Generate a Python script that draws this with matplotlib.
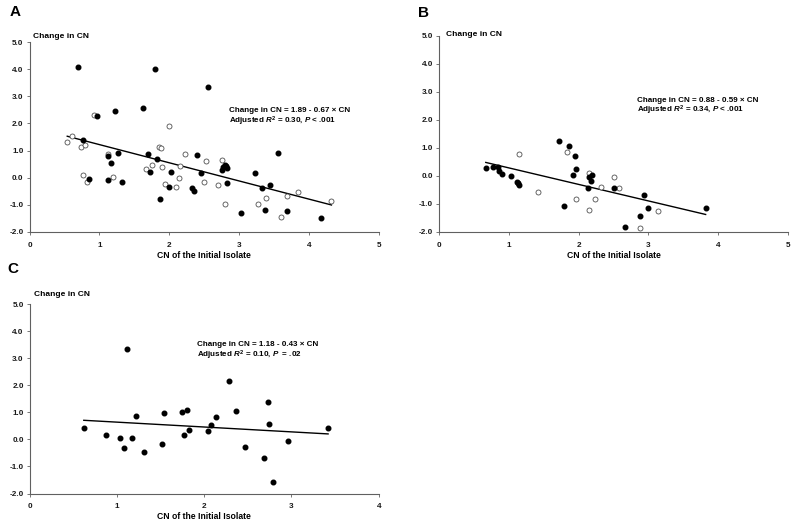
import matplotlib
matplotlib.use('Agg')
import matplotlib.pyplot as plt
import numpy as np

plt.rcParams['font.family'] = ['Liberation Sans', 'DejaVu Sans']
plt.rcParams['font.weight'] = 'bold'
plt.rcParams['mathtext.fontset'] = 'custom'
plt.rcParams['mathtext.rm'] = 'Liberation Sans:bold'
plt.rcParams['mathtext.it'] = 'Liberation Sans:italic:bold'
plt.rcParams['mathtext.bf'] = 'Liberation Sans:bold'

# panel A
a_filled_x = [0.70, 1.80, 0.96, 1.23, 1.63, 2.55, 0.77, 1.13, 1.26, 1.16, 0.85, 1.13,
              1.33, 1.70, 1.83, 1.72, 2.39, 2.03, 2.00, 1.86, 2.33, 2.36, 2.45, 2.76,
              2.77, 2.79, 2.81, 2.82, 2.82, 3.22, 3.56, 3.32, 3.44, 3.02, 3.37, 3.69, 4.17]
a_filled_y = [4.09, 4.02, 2.29, 2.46, 2.56, 3.35, 1.39, 0.81, 0.90, 0.53, -0.03, -0.07,
              -0.17, 0.89, 0.68, 0.20, 0.85, 0.20, -0.33, -0.77, -0.38, -0.49, 0.18, 0.28,
              0.41, 0.48, 0.45, 0.37, -0.21, 0.16, 0.90, -0.37, -0.25, -1.30, -1.19, -1.22, -1.50]
a_open_x = [0.92, 1.99, 0.61, 0.54, 0.74, 0.79, 1.85, 1.88, 1.13, 0.76, 0.82, 1.20,
            1.75, 1.67, 1.89, 2.22, 2.15, 2.14, 1.94, 2.10, 2.52, 2.49, 2.75, 2.69,
            2.79, 3.27, 3.38, 3.60, 3.68, 3.84, 4.32]
a_open_y = [2.32, 1.91, 1.52, 1.30, 1.12, 1.21, 1.15, 1.10, 0.87, 0.10, -0.17, 0.01,
            0.47, 0.32, 0.38, 0.86, 0.45, -0.01, -0.23, -0.33, 0.63, -0.15, 0.66, -0.28,
            -0.98, -0.97, -0.75, -1.46, -0.68, -0.54, -0.84]
a_fit = (1.89, -0.67)
a_eq = ['Change in CN = 1.89 - 0.67 \u00d7 CN', 'Adjusted $R^2$ = 0.30, $P$ < .001']

# panel B
b_filled_x = [0.67, 0.78, 0.84, 0.86, 0.90, 1.03, 1.12, 1.13, 1.15, 1.72, 1.86, 1.95,
              1.96, 1.92, 1.79, 2.15, 2.19, 2.18, 2.14, 2.50, 2.67, 2.93, 2.99, 2.88, 3.82]
b_filled_y = [0.30, 0.33, 0.32, 0.18, 0.08, 0.00, -0.21, -0.26, -0.32, 1.25, 1.07, 0.70,
              0.25, 0.04, -1.08, -0.02, 0.04, -0.19, -0.44, -0.44, -1.81, -0.67, -1.15, -1.43, -1.15]
b_open_x = [1.15, 1.42, 1.83, 1.96, 2.15, 2.23, 2.15, 2.32, 2.50, 2.58, 2.88, 3.14]
b_open_y = [0.79, -0.57, 0.85, -0.82, 0.10, -0.82, -1.21, -0.38, -0.05, -0.44, -1.86, -1.25]
b_fit = (0.88, -0.59)
b_eq = ['Change in CN = 0.88 - 0.59 \u00d7 CN', 'Adjusted $R^2$ = 0.34, $P$ < .001']

# panel C
c_filled_x = [1.12, 0.62, 0.87, 1.04, 1.08, 1.17, 1.22, 1.31, 1.52, 1.54, 1.75, 1.80, 1.77,
              1.83, 2.04, 2.08, 2.13, 2.28, 2.37, 2.47, 2.73, 2.74, 2.68, 2.79, 2.96, 3.42]
c_filled_y = [3.33, 0.41, 0.16, 0.04, -0.33, 0.07, 0.87, -0.45, -0.18, 0.97, 1.01, 1.09, 0.16,
              0.36, 0.32, 0.54, 0.84, 2.15, 1.04, -0.28, 1.40, 0.58, -0.70, -1.59, -0.06, 0.41]
c_open_x = []
c_open_y = []
c_fit = (0.82, -0.18)  # line as drawn in the figure
c_eq = ['Change in CN = 1.18 - 0.43 \u00d7 CN', 'Adjusted $R^2$ = 0.10, $P$  = .02']

y_ticks = [5, 4, 3, 2, 1, 0, -1, -2]

W, H = 800, 525
fig = plt.figure(figsize=(8, 5.25), dpi=100)


def px_box(x0, y0, x1, y1):
    return [x0 / W, 1 - y1 / H, (x1 - x0) / W, (y1 - y0) / H]


def draw_panel(ax, fx, fy, ox, oy, fit, eq, xmax, eq_xy, ylab_xy, letter, letter_xy):
    allx = list(fx) + list(ox)
    if ox:
        ax.plot(ox, oy, 'o', ms=3.6, mfc='white', mec='#505050', mew=0.6,
                clip_on=False, zorder=3)
    ax.plot(fx, fy, 'o', ms=3.3, color='black', clip_on=False, zorder=4)
    xs = np.array([min(allx), max(allx)])
    ax.plot(xs, fit[0] + fit[1] * xs, color='black', lw=1.0, zorder=2)

    ax.set_xlim(0, xmax)
    ax.set_ylim(-2, 5)
    ax.set_xticks(range(0, xmax + 1))
    ax.set_xticklabels([str(v) for v in range(0, xmax + 1)])
    ax.set_yticks(y_ticks)
    ax.set_yticklabels(['%.1f' % v for v in y_ticks])
    for s in ['top', 'right']:
        ax.spines[s].set_visible(False)
    for s in ['left', 'bottom']:
        ax.spines[s].set_color('#606060')
        ax.spines[s].set_linewidth(0.8)
    ax.tick_params(length=2.5, width=0.6, color='#606060', labelsize=5.9,
                   labelcolor='#1a1a1a', pad=1.8)
    ax.tick_params(axis='x', pad=4.5)
    ax.set_xlabel('CN of the Initial Isolate', fontsize=6.2, fontweight='bold',
                  labelpad=1.5)

    fig.text(eq_xy[0] / W, 1 - eq_xy[1] / H, eq[0], fontsize=5.8, fontweight='bold',
             va='center', ha='left')
    fig.text(eq_xy[0] / W, 1 - (eq_xy[1] + eq_xy[2]) / H, eq[1], fontsize=5.8,
             fontweight='bold', va='center', ha='left')
    fig.text(ylab_xy[0] / W, 1 - ylab_xy[1] / H, 'Change in CN', fontsize=6.0,
             fontweight='bold', va='center', ha='left')
    fig.text(letter_xy[0] / W, 1 - letter_xy[1] / H, letter, fontsize=11,
             fontweight='bold', va='center', ha='left')


ax_a = fig.add_axes(px_box(29.5, 42, 379, 232))
draw_panel(ax_a, a_filled_x, a_filled_y, a_open_x, a_open_y, a_fit, a_eq, 5,
           (229, 111, 10), (33, 36), 'A', (10, 12))

ax_b = fig.add_axes(px_box(439, 36, 788, 232))
draw_panel(ax_b, b_filled_x, b_filled_y, b_open_x, b_open_y, b_fit, b_eq, 5,
           (637, 101, 9.5), (446, 35), 'B', (418, 13))

ax_c = fig.add_axes(px_box(29.7, 304.3, 378.7, 493.5))
draw_panel(ax_c, c_filled_x, c_filled_y, c_open_x, c_open_y, c_fit, c_eq, 4,
           (197, 344, 11.5), (34, 294), 'C', (7, 269))

fig.savefig('out.png', dpi=100)
